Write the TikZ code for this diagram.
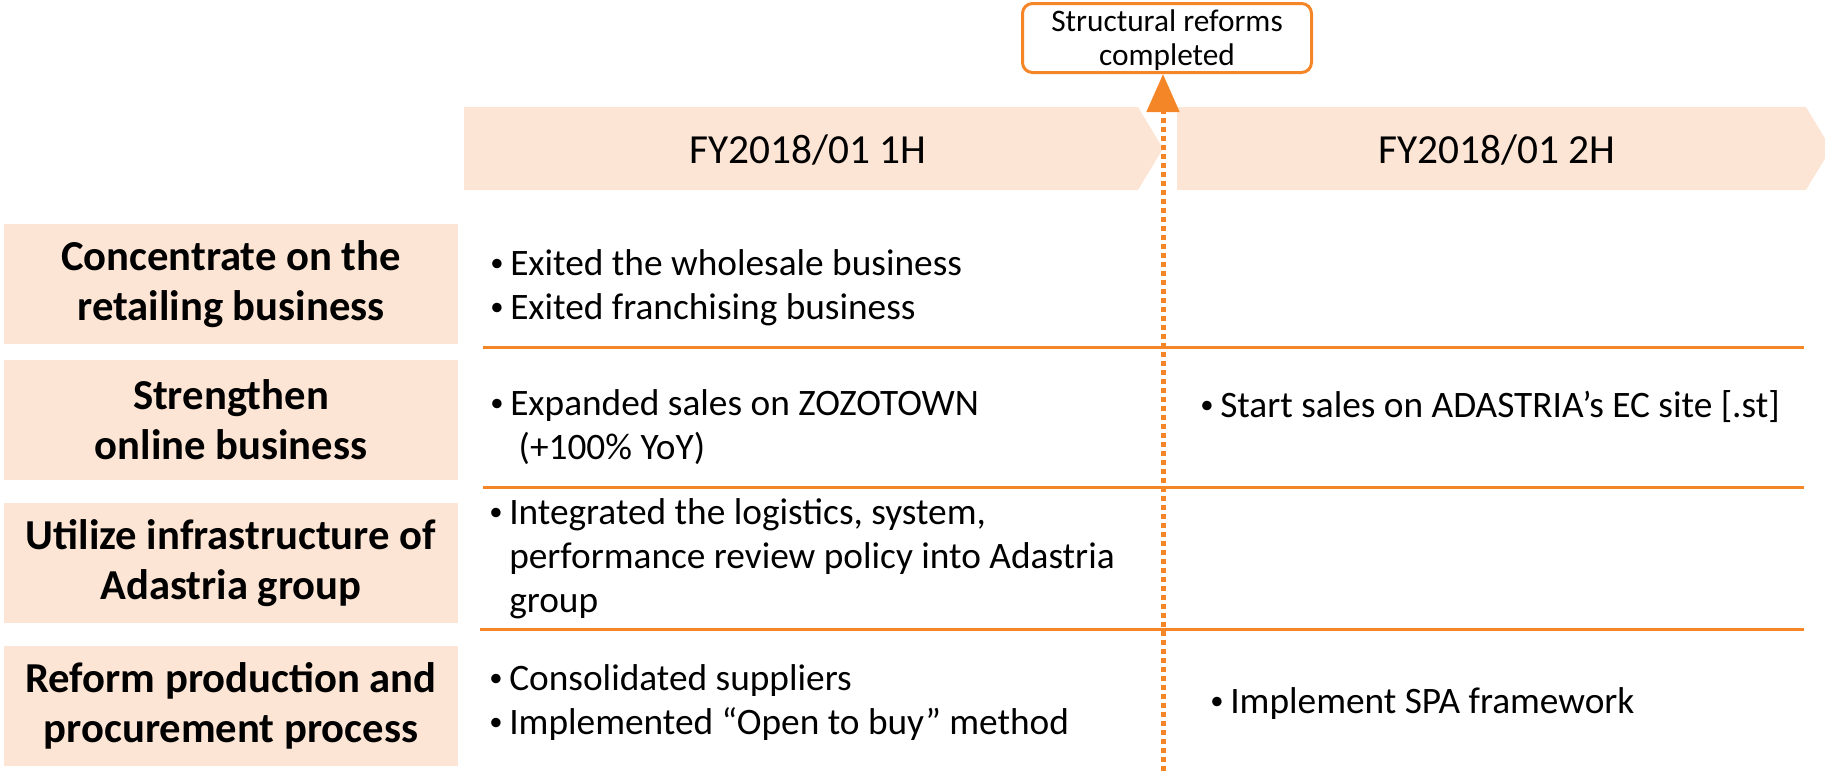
\documentclass[tikz,border=0pt]{standalone}
\usepackage{fontspec}
\setmainfont{Carlito}
\usetikzlibrary{arrows.meta}
\definecolor{peach}{RGB}{252,229,212}
\definecolor{tangerine}{RGB}{245,134,40}
\newcommand{\bul}{\makebox[15pt][l]{\raisebox{2.5pt}{\fontsize{20}{20}\selectfont\textbullet}}}
\newcommand{\hang}{\hspace*{15pt}}

\begin{document}
\begin{tikzpicture}[x=0.75pt, y=-0.75pt,
  goal/.style={fill=peach, minimum width=340.5pt, minimum height=90pt, align=center, inner sep=0pt, font=\fontsize{32}{37.5}\selectfont\bfseries},
  item/.style={anchor=base west, align=left, inner sep=0pt, font=\fontsize{28}{33}\selectfont},
  phase/.style={anchor=base, inner sep=0pt, font=\fontsize{31}{37}\selectfont},
  rowline/.style={draw=tangerine, line width=2.25pt}]
\useasboundingbox (0,0) rectangle (1825,771);

\fill[peach] (464,107) -- (1138,107) -- (1163,148.5) -- (1138,190) -- (464,190) -- cycle;
\fill[peach] (1177,107) -- (1806,107) -- (1831,148.5) -- (1806,190) -- (1177,190) -- cycle;
\node[phase] (h1) at (808,163) {FY2018/01 1H};
\node[phase] (h2) at (1497,163) {FY2018/01 2H};

\node[goal] (g1) at (231,284) {Concentrate on the\\retailing business};
\node[goal] (g2) at (231,420) {Strengthen\\online business};
\node[goal] (g3) at (231,563) {Utilize infrastructure of\\Adastria group};
\node[goal] (g4) at (231,706) {Reform production and\\procurement process};

\draw[rowline] (483,347) -- (1804,347);
\draw[rowline] (483,487) -- (1804,487);
\draw[rowline] (480,629) -- (1804,629);

\node[item] (a1) at (490,319) {\bul Exited the wholesale business\\\bul Exited franchising business};
\node[item] (a2) at (490,459) {\bul Expanded sales on ZOZOTOWN\\\hang\ (+100\% YoY)};
\node[item] (a3) at (489,612) {\bul Integrated the logistics, system,\\\hang performance review policy into Adastria\\\hang group};
\node[item] (a4) at (489,734) {\bul Consolidated suppliers\\\bul Implemented “Open to buy” method};
\node[item] (b2) at (1200,417) {\bul Start sales on ADASTRIA’s EC site [.st]};
\node[item] (b4) at (1210,713) {\bul Implement SPA framework};

\node[draw=tangerine, line width=2.25pt, rounded corners=7.5pt, fill=white, minimum width=216.75pt, minimum height=51.75pt, align=center, inner sep=0pt, text depth=0pt, font=\fontsize{23.5}{25.5}\selectfont] (done) at (1167,38) {Structural reforms\\completed};

\coordinate (foot) at (1163,771);
\draw[tangerine, line width=3.75pt, dash pattern=on 3.75pt off 3pt, -{Triangle[width=24pt,length=28.5pt]}] (foot) -- (foot |- done.south);
\end{tikzpicture}
\end{document}
